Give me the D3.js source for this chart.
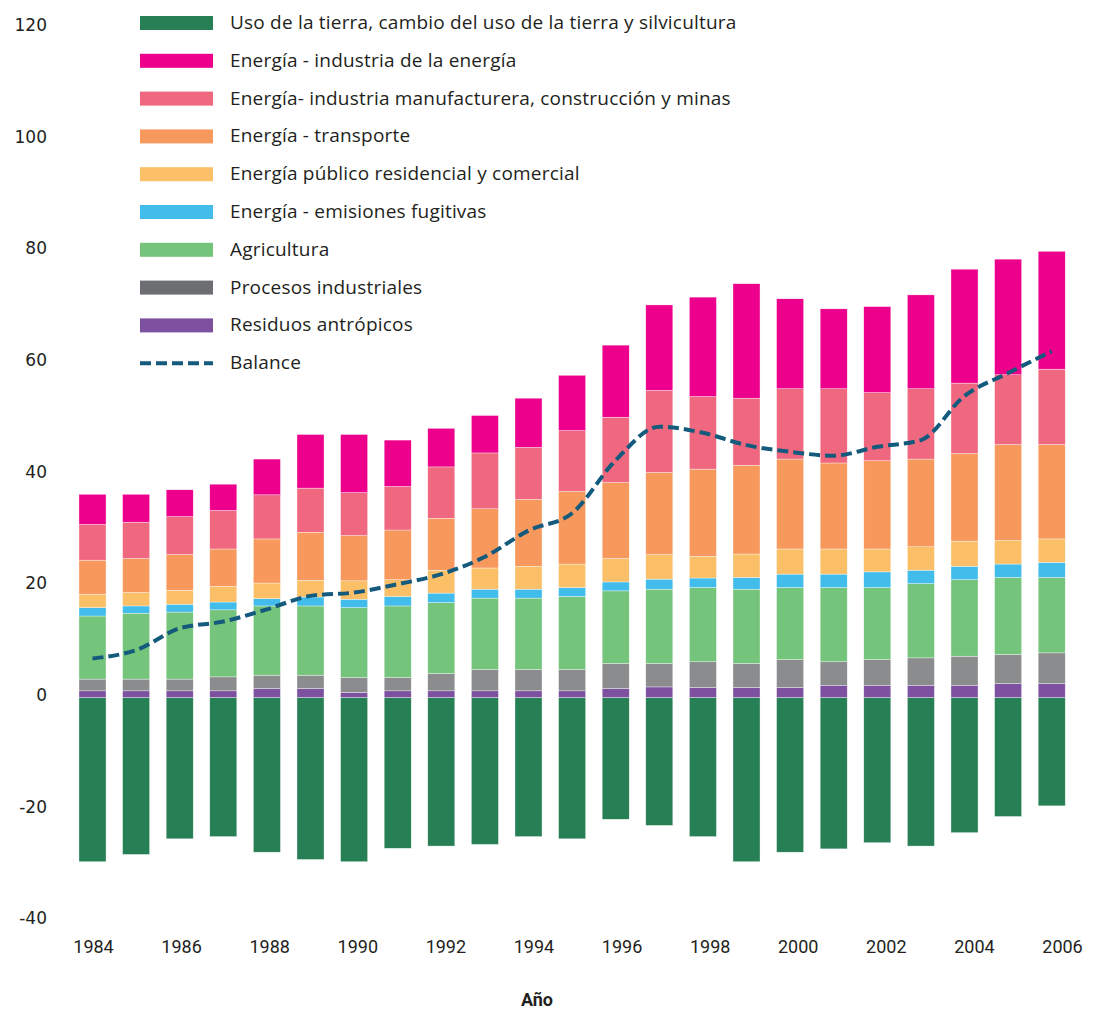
<!DOCTYPE html>
<html>
<head>
<meta charset="utf-8">
<script src="https://cdn.jsdelivr.net/npm/d3@7"></script>
<style>
  body { margin: 0; background: #fff; }
  svg { display: block; }
</style>
</head>
<body>
<div id="chart"></div>
<script>
let width = 1097
let height = 1015

const years = d3.range(1984, 2007)
const xTicks = [1984, 1986, 1988, 1990, 1992, 1994, 1996, 1998, 2000, 2002, 2004, 2006]
const yTicks = [-40, -20, 0, 20, 40, 60, 80, 100, 120]

// valores por año (1984 - 2006)
const usoTierra   = [-29.4, -28.1, -25.3, -24.9, -27.7, -29.0, -29.4, -27.0, -26.6, -26.3, -24.9, -25.3, -21.8, -22.9, -24.9, -29.4, -27.7, -27.1, -26.0, -26.6, -24.2, -21.3, -19.4]
const residuos    = [1.2, 1.2, 1.2, 1.2, 1.6, 1.6, 0.9, 1.2, 1.2, 1.2, 1.2, 1.2, 1.6, 1.9, 1.8, 1.8, 1.8, 2.2, 2.2, 2.2, 2.2, 2.5, 2.5]
const procesos    = [2.1, 2.1, 2.1, 2.5, 2.4, 2.4, 2.7, 2.4, 3.1, 3.8, 3.8, 3.8, 4.5, 4.2, 4.6, 4.3, 5.0, 4.2, 4.6, 4.9, 5.2, 5.2, 5.5]
const agricultura = [11.3, 11.8, 12.0, 12.0, 12.4, 12.4, 12.5, 12.8, 12.7, 12.8, 12.8, 13.1, 13.0, 13.3, 13.3, 13.3, 12.9, 13.3, 12.9, 13.3, 13.7, 13.8, 13.5]
const fugitivas   = [1.5, 1.3, 1.4, 1.4, 1.3, 1.6, 1.5, 1.7, 1.7, 1.6, 1.6, 1.6, 1.6, 1.8, 1.7, 2.1, 2.4, 2.4, 2.8, 2.4, 2.4, 2.4, 2.7]
const residencial = [2.4, 2.4, 2.5, 2.8, 2.8, 3.0, 3.3, 3.0, 4.1, 3.8, 4.1, 4.2, 4.2, 4.4, 3.9, 4.2, 4.5, 4.5, 4.1, 4.2, 4.5, 4.2, 4.2]
const transporte  = [6.1, 6.1, 6.4, 6.7, 7.9, 8.6, 8.1, 8.9, 9.3, 10.6, 12.0, 13.0, 13.6, 14.7, 15.6, 15.9, 16.1, 15.4, 15.8, 15.7, 15.7, 17.2, 16.9]
const manufactura = [6.4, 6.5, 6.8, 6.9, 7.9, 7.9, 7.7, 7.8, 9.2, 10.0, 9.3, 10.9, 11.7, 14.7, 13.0, 12.0, 12.6, 13.3, 12.2, 12.6, 12.6, 12.5, 13.5]
const energia     = [5.4, 5.0, 4.8, 4.7, 6.4, 9.6, 10.4, 8.3, 6.9, 6.7, 8.8, 9.9, 12.9, 15.3, 17.8, 20.5, 16.1, 14.3, 15.4, 16.8, 20.4, 20.7, 21.1]
const balance     = [7.0, 8.5, 12.4, 13.6, 15.8, 18.2, 18.8, 20.3, 22.1, 25.2, 29.9, 33.0, 42.5, 48.5, 47.4, 45.2, 44.0, 43.3, 44.9, 46.1, 54.0, 58.1, 62.0]

const series = [
  {key: 'usoTierra', name: 'Uso de la tierra, cambio del uso de la tierra y silvicultura', values: usoTierra, color: '#277f55'},
  {key: 'residuos', name: 'Residuos antrópicos', values: residuos, color: '#7d51a0'},
  {key: 'procesos', name: 'Procesos industriales', values: procesos, color: '#8b8c8e', legend: '#6d6e71'},
  {key: 'agricultura', name: 'Agricultura', values: agricultura, color: '#74c47c'},
  {key: 'fugitivas', name: 'Energía - emisiones fugitivas', values: fugitivas, color: '#41bceb'},
  {key: 'residencial', name: 'Energía público residencial y comercial', values: residencial, color: '#fbbf68'},
  {key: 'transporte', name: 'Energía - transporte', values: transporte, color: '#f7985d'},
  {key: 'manufactura', name: 'Energía- industria manufacturera, construcción y minas', values: manufactura, color: '#f0687f'},
  {key: 'energia', name: 'Energía - industria de la energía', values: energia, color: '#ec008c'}
]

const legendOrder = ['usoTierra', 'energia', 'manufactura', 'transporte', 'residencial', 'fugitivas', 'agricultura', 'procesos', 'residuos']

let rows = years.map((y, i) => {
  let row = {year: y}
  series.forEach(s => row[s.key] = s.values[i])
  return row
})

let svg = d3.select('#chart')
            .append('svg')
            .attr('width', width)
            .attr('height', height)
            .style('font-family', "'Open Sans', sans-serif")

let xScale = d3.scaleBand()
            .domain(years)
            .range([70.7, 1073.5])
            .paddingInner(0.38)
            .paddingOuter(0.19)

let xLabel = d3.scaleLinear()
            .domain([1984, 2006])
            .range([93, 1062])

let yScale = d3.scaleLinear()
            .domain([-40, 120])
            .range([920.9, 27.4])

let stack = d3.stack()
            .keys(series.map(s => s.key))
            .offset(d3.stackOffsetDiverging)

let layers = stack(rows)

svg.selectAll('.layer')
    .data(layers)
    .enter()
    .append('g')
    .attr('class', 'layer')
    .attr('fill', (d, i) => series[i].color)
    .selectAll('rect')
    .data(d => d)
    .enter()
    .append('rect')
    .attr('x', d => xScale(d.data.year))
    .attr('y', d => yScale(d[1]))
    .attr('width', xScale.bandwidth())
    .attr('height', d => yScale(d[0]) - yScale(d[1]))
    .attr('stroke', '#fff')
    .attr('stroke-width', 0.5)
    .attr('stroke-opacity', 0.7)

// eje y, solo etiquetas
let yAxis = svg.append('g')
    .attr('transform', 'translate(47,0)')
    .call(d3.axisLeft(yScale).tickValues(yTicks).tickFormat(d => String(d)).tickSize(0).tickPadding(0))

yAxis.select('.domain').remove()
yAxis.selectAll('text')
    .attr('dy', '0.32em')
    .attr('y', -2.5)
    .style('font-family', "'DejaVu Sans', sans-serif")
    .style('font-size', '17px')
    .attr('fill', '#231f20')

// eje x
let xAxis = svg.append('g')
    .attr('transform', 'translate(0,940)')
    .call(d3.axisBottom(xLabel).tickValues(xTicks).tickFormat(d => d).tickSize(0).tickPadding(0))

xAxis.select('.domain').remove()
xAxis.selectAll('text')
    .attr('dy', '0.71em')
    .style('font-family', "'Roboto', sans-serif")
    .style('font-size', '18px')
    .attr('fill', '#231f20')

svg.append('text')
    .attr('x', 537)
    .attr('y', 1006)
    .attr('text-anchor', 'middle')
    .style('font-family', "'Roboto', sans-serif")
    .style('font-size', '18px')
    .style('font-weight', 'bold')
    .attr('fill', '#231f20')
    .text('Año')

// linea de balance
let line = d3.line()
    .x((d, i) => xScale(years[i]) + xScale.bandwidth() / 2)
    .y(d => yScale(d))
    .curve(d3.curveMonotoneX)

svg.append('path')
    .datum(balance)
    .attr('d', line)
    .attr('fill', 'none')
    .attr('stroke', '#135a7c')
    .attr('stroke-width', 4)
    .attr('stroke-dasharray', '11,5')

// leyenda
let legend = svg.append('g')
    .attr('transform', 'translate(140,23)')

let legendItems = legendOrder.map(k => series.find(s => s.key === k))

let item = legend.selectAll('.item')
    .data(legendItems)
    .enter()
    .append('g')
    .attr('class', 'item')
    .attr('transform', (d, i) => 'translate(0,' + (i * 37.8) + ')')

item.append('rect')
    .attr('y', -7)
    .attr('width', 73)
    .attr('height', 14)
    .attr('fill', d => d.legend || d.color)

item.append('text')
    .attr('x', 90)
    .attr('dy', '0.32em')
    .style('font-size', '19px')
    .style('letter-spacing', '0.2px')
    .attr('fill', '#231f20')
    .text(d => d.name)

let balanceItem = legend.append('g')
    .attr('transform', 'translate(0,' + (legendItems.length * 37.8) + ')')

balanceItem.append('line')
    .attr('x1', 0)
    .attr('x2', 73)
    .attr('stroke', '#135a7c')
    .attr('stroke-width', 4)
    .attr('stroke-dasharray', '11,5')

balanceItem.append('text')
    .attr('x', 90)
    .attr('dy', '0.32em')
    .style('font-size', '19px')
    .style('letter-spacing', '0.2px')
    .attr('fill', '#231f20')
    .text('Balance')
</script>
</body>
</html>
